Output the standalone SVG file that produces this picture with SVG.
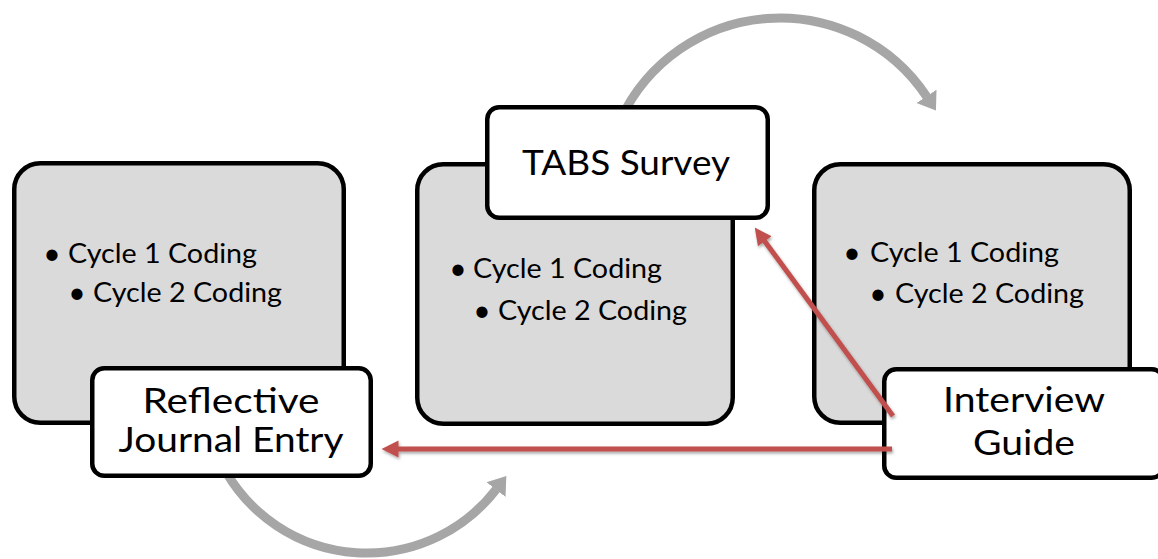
<svg xmlns="http://www.w3.org/2000/svg" width="1158" height="559" viewBox="0 0 1158 559">
  <style>
    .panel { fill: #dadada; stroke: #000; stroke-width: 4.5; }
    .label { fill: #fff; stroke: #000; stroke-width: 4.5; }
    .bul { font-family: Lato, "Open Sans", sans-serif; font-size: 27px; fill: #000; }
    .dot { font-family: Lato, "Open Sans", sans-serif; font-size: 30px; fill: #000; text-anchor: middle; }
    .big { font-family: Lato, "Open Sans", sans-serif; font-size: 35px; fill: #000; text-anchor: middle; }
    .arc { fill: none; stroke: #a6a6a6; stroke-width: 9; }
    .red { fill: none; stroke: #c0504d; stroke-width: 5; }
  </style>
  <defs>
    <marker id="grayHead" markerUnits="userSpaceOnUse" markerWidth="17" markerHeight="26" viewBox="0 0 17 26" refX="0.5" refY="13" orient="auto">
      <path d="M0,1 L17,13 L0,25 Z" fill="#a6a6a6"/>
    </marker>
    <marker id="redHead" markerUnits="userSpaceOnUse" markerWidth="17" markerHeight="18" viewBox="0 0 17 18" refX="0.5" refY="9" orient="auto">
      <path d="M0,0.5 L17,9 L0,17.5 Z" fill="#c0504d"/>
    </marker>
    <filter id="shadow" x="-5%" y="-20%" width="110%" height="140%">
      <feDropShadow dx="1" dy="2" stdDeviation="1.5" flood-color="#000" flood-opacity="0.35"/>
    </filter>
  </defs>

  <g id="cycle-arcs">
    <path class="arc" d="M620.5,119.6 A176,176 0 0 1 926.8,96.8" marker-end="url(#grayHead)"/>
    <path class="arc" d="M225.8,471.5 A163,163 0 0 0 496.3,489.2" marker-end="url(#grayHead)"/>
  </g>

  <g id="node-left">
    <rect class="panel" x="14.25" y="163.25" width="329.5" height="259.5" rx="26"/>
    <text class="dot" x="52" y="264">•</text>
    <text class="bul" x="68" y="263" textLength="189" lengthAdjust="spacingAndGlyphs">Cycle 1 Coding</text>
    <text class="dot" x="77" y="303">•</text>
    <text class="bul" x="93" y="302" textLength="189" lengthAdjust="spacingAndGlyphs">Cycle 2 Coding</text>
  </g>

  <g id="node-middle">
    <rect class="panel" x="417.25" y="164.25" width="315.5" height="259.5" rx="26"/>
    <text class="dot" x="458" y="279">•</text>
    <text class="bul" x="473" y="278" textLength="189" lengthAdjust="spacingAndGlyphs">Cycle 1 Coding</text>
    <text class="dot" x="482" y="321">•</text>
    <text class="bul" x="498" y="320" textLength="189" lengthAdjust="spacingAndGlyphs">Cycle 2 Coding</text>
  </g>

  <g id="node-right">
    <rect class="panel" x="814.25" y="164.25" width="315.5" height="258.5" rx="26"/>
    <text class="dot" x="852" y="263">•</text>
    <text class="bul" x="870" y="262" textLength="189" lengthAdjust="spacingAndGlyphs">Cycle 1 Coding</text>
    <text class="dot" x="878" y="304">•</text>
    <text class="bul" x="895" y="303" textLength="189" lengthAdjust="spacingAndGlyphs">Cycle 2 Coding</text>
  </g>

  <g id="node-reflective">
    <rect class="label" x="92.25" y="368.25" width="278.5" height="107.5" rx="12"/>
    <text class="big" x="231" y="413" textLength="177" lengthAdjust="spacingAndGlyphs">Reflective</text>
    <text class="big" x="231" y="452" textLength="225" lengthAdjust="spacingAndGlyphs">Journal Entry</text>
  </g>

  <g id="node-tabs">
    <rect class="label" x="487.25" y="107.25" width="280.5" height="110.5" rx="12"/>
    <text class="big" x="626" y="175" textLength="208" lengthAdjust="spacingAndGlyphs">TABS Survey</text>
  </g>

  <g id="node-interview">
    <rect class="label" x="884.25" y="369.25" width="279.5" height="108.5" rx="12"/>
    <text class="big" x="1024" y="412" textLength="162" lengthAdjust="spacingAndGlyphs">Interview</text>
    <text class="big" x="1024" y="455" textLength="102" lengthAdjust="spacingAndGlyphs">Guide</text>
  </g>

  <g id="connectors" filter="url(#shadow)">
    <line class="red" x1="893" y1="416" x2="764.5" y2="240.9" marker-end="url(#redHead)"/>
    <line class="red" x1="892" y1="449" x2="398" y2="449" marker-end="url(#redHead)"/>
  </g>
</svg>
